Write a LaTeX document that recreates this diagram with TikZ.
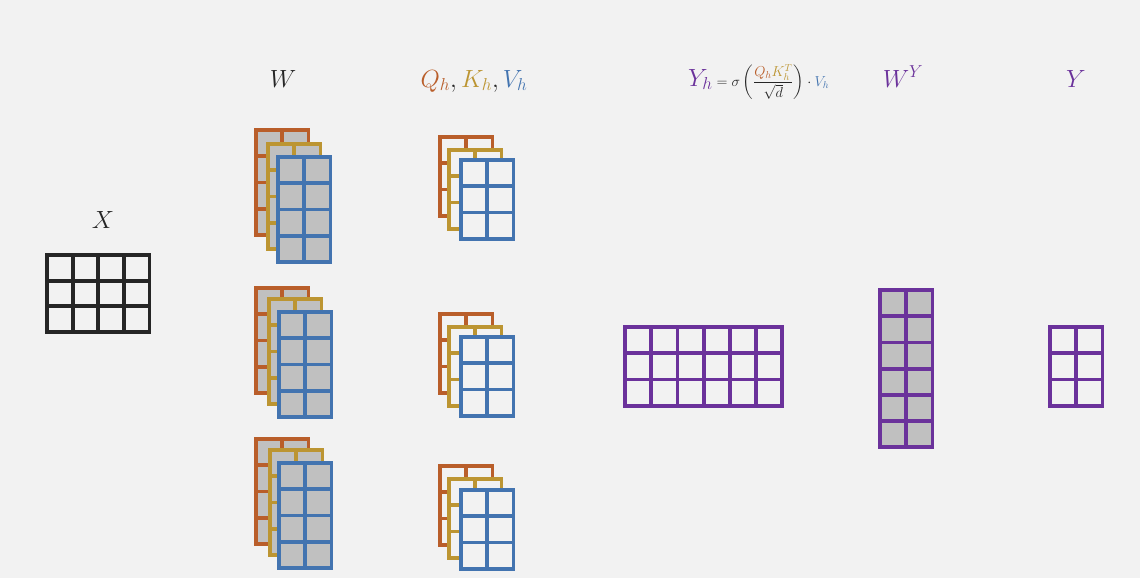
\documentclass[tikz,border=0pt]{standalone}
\usepackage{amsmath}
\definecolor{bgc}{RGB}{242,242,242}
\definecolor{orn}{RGB}{185,94,42}
\definecolor{gld}{RGB}{188,149,50}
\definecolor{blu}{RGB}{67,116,176}
\definecolor{pur}{RGB}{107,50,155}
\definecolor{drk}{RGB}{38,38,38}
\definecolor{cellgray}{RGB}{192,192,192}
\newcommand\mgrid[7][26.2]{%
  \foreach \ci in {1,...,#4}{\foreach \cj in {1,...,#5}{%
    \filldraw[cell,draw=#6,fill=#7] ({#2+2+(\ci-1)*#1},{#3+2+(\cj-1)*#1}) rectangle ++(#1,#1);}}}
\tikzset{
  cell/.style={line width=3.8pt},
  lab/.style={anchor=base,inner sep=0pt,font=\fontsize{26}{30}\selectfont},
}
\begin{document}
\begin{tikzpicture}[x=1pt,y=-1pt]
\fill[bgc] (0,0) rectangle (1140,578);
\useasboundingbox (0,0) rectangle (1140,578);
% labels
\node[lab,text=drk] (lx) at (103,228) {$X$};
\node[lab,text=drk] (lw) at (283,87) {$W$};
\node[lab] (lqkv) at (474,87) {$\color{orn}Q_h\color{drk},\color{gld}K_h\color{drk},\color{blu}V_h$};
\node[lab,anchor=base west] (lyh) at (688,86) {$\color{pur}Y_h$\fontsize{14.5}{18}\selectfont$\color{drk}{}=\sigma\left(\dfrac{\color{orn}Q_h\color{gld}K_h^T}{\color{drk}\sqrt{d}}\right)\cdot\color{blu}V_h$};
\node[lab,text=pur] (lwy) at (903,87) {$W^Y$};
\node[lab,text=pur] (ly) at (1076,87) {$Y$};
% X
\mgrid[25.6]{45}{253}{4}{3}{drk}{bgc}
% W stacks
\mgrid{254}{128}{2}{4}{orn}{cellgray}
\mgrid{266}{142}{2}{4}{gld}{cellgray}
\mgrid{276}{155}{2}{4}{blu}{cellgray}
\mgrid{254}{286}{2}{4}{orn}{cellgray}
\mgrid{267}{297}{2}{4}{gld}{cellgray}
\mgrid{277}{310}{2}{4}{blu}{cellgray}
\mgrid{254}{437}{2}{4}{orn}{cellgray}
\mgrid{268}{448}{2}{4}{gld}{cellgray}
\mgrid{277}{461}{2}{4}{blu}{cellgray}
% QKV stacks
\mgrid{438}{135}{2}{3}{orn}{bgc}
\mgrid{447}{148}{2}{3}{gld}{bgc}
\mgrid{459}{158}{2}{3}{blu}{bgc}
\mgrid{438}{312}{2}{3}{orn}{bgc}
\mgrid{447}{325}{2}{3}{gld}{bgc}
\mgrid{459}{335}{2}{3}{blu}{bgc}
\mgrid{438}{464}{2}{3}{orn}{bgc}
\mgrid{447}{477}{2}{3}{gld}{bgc}
\mgrid{459}{488}{2}{3}{blu}{bgc}
% Y_h, W^Y, Y
\mgrid{623}{325}{6}{3}{pur}{bgc}
\mgrid{878}{288}{2}{6}{pur}{cellgray}
\mgrid{1048}{325}{2}{3}{pur}{bgc}
\end{tikzpicture}
\end{document}
